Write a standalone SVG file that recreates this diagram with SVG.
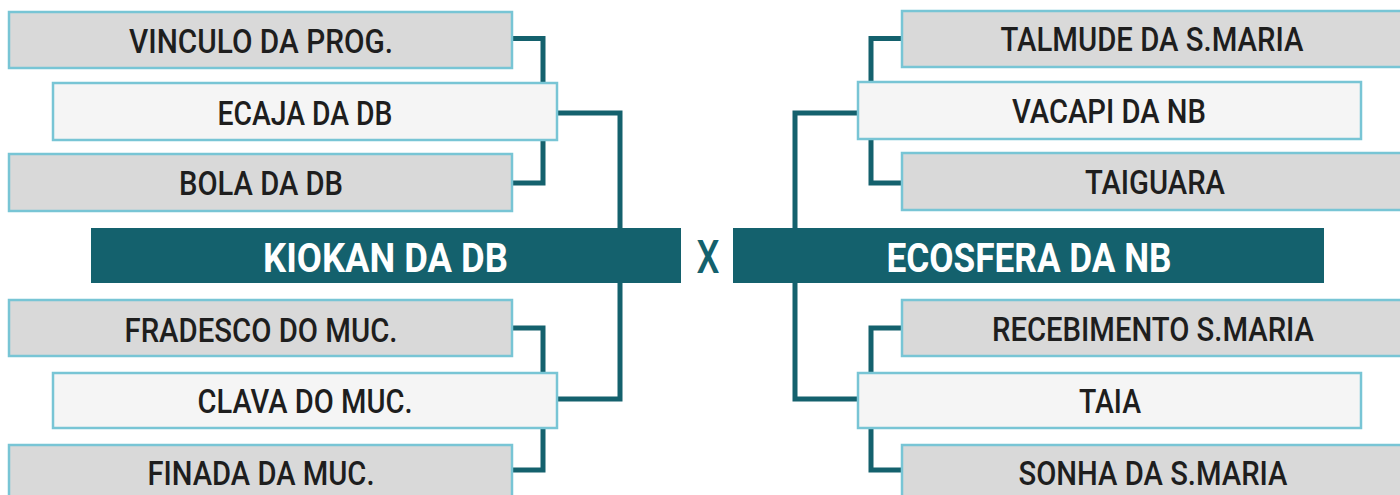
<svg xmlns="http://www.w3.org/2000/svg" width="1400" height="495" viewBox="0 0 1400 495">
<style>
.g{fill:#d9d9d9;stroke:#78c5d5;stroke-width:2.5}
.w{fill:#f5f5f5;stroke:#78c5d5;stroke-width:2.5}
.m{fill:#14616d}
.t{font-family:Roboto,"Liberation Sans",sans-serif;font-weight:500;font-size:33px;fill:#1e1e1e;text-anchor:middle}
.b{font-family:Roboto,"Liberation Sans",sans-serif;font-weight:700;font-size:40px;fill:#ffffff;text-anchor:middle}
.c{fill:none;stroke:#14616d;stroke-width:5}
</style>
<rect width="1400" height="495" fill="#ffffff"/>
<g id="connectors">
<path class="c" d="M512 38.5H543V183H512"/>
<path class="c" d="M557 113H620V228"/>
<path class="c" d="M620 283V399H557"/>
<path class="c" d="M512 328H543V470H512"/>
<path class="c" d="M902 38.5H871V183H902"/>
<path class="c" d="M858 113H795V228"/>
<path class="c" d="M795 283V399H858"/>
<path class="c" d="M902 328H871V470H902"/>
</g>
<g id="n-vinculo"><rect class="g" x="9" y="12" width="503" height="56"/><text class="t" x="261" y="53" textLength="264" lengthAdjust="spacingAndGlyphs">VINCULO DA PROG.</text></g>
<g id="n-bola"><rect class="g" x="9" y="154" width="503" height="57"/><text class="t" x="261" y="195" textLength="164" lengthAdjust="spacingAndGlyphs">BOLA DA DB</text></g>
<g id="n-ecaja"><rect class="w" x="53" y="83" width="504" height="57"/><text class="t" x="305" y="125" textLength="175" lengthAdjust="spacingAndGlyphs">ECAJA DA DB</text></g>
<g id="n-fradesco"><rect class="g" x="9" y="300" width="503" height="56"/><text class="t" x="261" y="342" textLength="273" lengthAdjust="spacingAndGlyphs">FRADESCO DO MUC.</text></g>
<g id="n-finada"><rect class="g" x="9" y="445" width="503" height="57"/><text class="t" x="261" y="485" textLength="227" lengthAdjust="spacingAndGlyphs">FINADA DA MUC.</text></g>
<g id="n-clava"><rect class="w" x="53" y="373" width="504" height="55"/><text class="t" x="305" y="413" textLength="215" lengthAdjust="spacingAndGlyphs">CLAVA DO MUC.</text></g>
<g id="n-kiokan"><rect class="m" x="91" y="228" width="590" height="55"/><text class="b" x="385.5" y="272" textLength="245" lengthAdjust="spacingAndGlyphs">KIOKAN DA DB</text></g>
<g id="n-x"><text x="708" y="273" font-family="Roboto,'Liberation Sans',sans-serif" font-weight="500" font-size="46" fill="#14616d" text-anchor="middle" textLength="23" lengthAdjust="spacingAndGlyphs">X</text></g>
<g id="n-ecosfera"><rect class="m" x="733" y="228" width="591" height="55"/><text class="b" x="1029" y="272" textLength="285" lengthAdjust="spacingAndGlyphs">ECOSFERA DA NB</text></g>
<g id="n-talmude"><rect class="g" x="902" y="11" width="502" height="56"/><text class="t" x="1152" y="51" textLength="303" lengthAdjust="spacingAndGlyphs">TALMUDE DA S.MARIA</text></g>
<g id="n-taiguara"><rect class="g" x="902" y="153" width="502" height="57"/><text class="t" x="1155" y="194" textLength="140" lengthAdjust="spacingAndGlyphs">TAIGUARA</text></g>
<g id="n-vacapi"><rect class="w" x="858" y="82" width="503" height="57"/><text class="t" x="1109" y="123" textLength="194" lengthAdjust="spacingAndGlyphs">VACAPI DA NB</text></g>
<g id="n-recebimento"><rect class="g" x="902" y="300" width="502" height="56"/><text class="t" x="1153" y="341" textLength="322" lengthAdjust="spacingAndGlyphs">RECEBIMENTO S.MARIA</text></g>
<g id="n-sonha"><rect class="g" x="902" y="445" width="502" height="57"/><text class="t" x="1153" y="485" textLength="269" lengthAdjust="spacingAndGlyphs">SONHA DA S.MARIA</text></g>
<g id="n-taia"><rect class="w" x="858" y="373" width="503" height="55"/><text class="t" x="1110" y="413" textLength="62" lengthAdjust="spacingAndGlyphs">TAIA</text></g>
</svg>
